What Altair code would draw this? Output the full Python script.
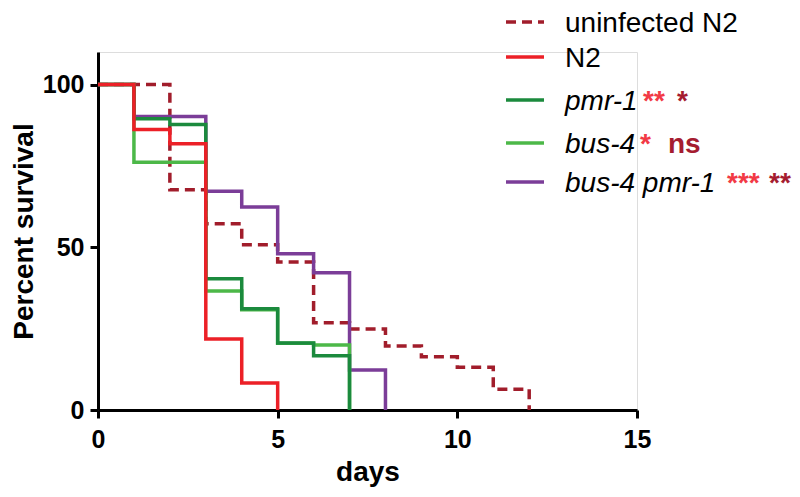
import altair as alt
import pandas as pd

# ---- data (Kaplan-Meier steps) ----
days_uninf = [0, 2, 3, 4, 5, 6, 7, 8, 9, 10, 11, 12]
surv_uninf = [100, 67.7, 57.2, 50.8, 45.5, 26.8, 24.9, 19.7, 16.4, 13.1, 6.4, 0]

days_n2 = [0, 1, 2, 3, 4, 5]
surv_n2 = [100, 86.2, 81.8, 21.8, 8.3, 0]

days_pmr = [0, 1, 2, 3, 4, 5, 6, 7]
surv_pmr = [100, 89.5, 87.7, 40.3, 31.1, 20.6, 16.7, 0]

days_bus = [0, 1, 3, 4, 5, 6, 7]
surv_bus = [100, 76.1, 36.6, 30.8, 20.5, 20.0, 0]

days_dbl = [0, 1, 3, 4, 5, 6, 7, 8]
surv_dbl = [100, 90.2, 67.2, 62.4, 48.0, 42.2, 12.3, 0]

legend_names = ["uninfected N2", "N2", "pmr-1", "bus-4", "bus-4 pmr-1"]
legend_italic = [False, False, True, True, True]
sig_vs_n2 = ["", "", "**", "*", "***"]
sig_vs_uninf = ["", "", "*", "ns", "**"]

x_ticks = [0, 5, 10, 15]
y_ticks = [0, 50, 100]

# ---- styles ----
FONT = "Liberation Sans"
C_UNINF = "#a11d2b"
C_N2 = "#ec2027"
C_PMR = "#1b8a3d"
C_BUS = "#4cb848"
C_DBL = "#7b3d98"
C_SIG1 = "#f23a45"
C_SIG2 = "#a51c30"
colors = [C_UNINF, C_N2, C_PMR, C_BUS, C_DBL]
dashes = [[10, 6], None, None, None, None]

W, H = 539, 358
x_scale = alt.Scale(domain=[0, 15], nice=False)
y_scale = alt.Scale(domain=[0, 110], nice=False)

common_axis = dict(
    labelFont=FONT, labelFontWeight="bold", labelColor="black",
    tickColor="black", tickWidth=3, tickSize=8,
    domainColor="black", domainWidth=3, grid=False,
    titleFont=FONT, titleFontWeight="bold", titleColor="black",
)
x_axis = alt.Axis(values=x_ticks, format="d", labelFontSize=25, labelPadding=9,
                  titleFontSize=28, titlePadding=6, labelFlush=False, **common_axis)
y_axis = alt.Axis(values=y_ticks, format="d", labelFontSize=25, labelPadding=6,
                  titleFontSize=28, titlePadding=4, **common_axis)


def curve(days, surv, color, dash=None):
    df = pd.DataFrame({"day": days, "surv": surv})
    kw = dict(interpolate="step-after", color=color, strokeWidth=3.5, clip=False)
    if dash:
        kw["strokeDash"] = dash
    return alt.Chart(df).mark_line(**kw).encode(
        x=alt.X("day:Q", scale=x_scale, axis=x_axis, title="days"),
        y=alt.Y("surv:Q", scale=y_scale, axis=y_axis, title="Percent survival"),
        order="day:Q",
    )


layers = [
    curve(days_uninf, surv_uninf, C_UNINF, [10, 6]),
    curve(days_dbl, surv_dbl, C_DBL),
    curve(days_bus, surv_bus, C_BUS),
    curve(days_pmr, surv_pmr, C_PMR),
    curve(days_n2, surv_n2, C_N2),
]

# ---- custom legend (layout constants, relative to plot origin) ----
row_y = [-30, 5, 48, 91, 130]
sym_x0, sym_x1 = 408, 446
text_x = 467
sig1_x = [None, None, 545, 542, 629]
sig2_x = [None, None, 579, 570, 671]
FS = 28

for i, name in enumerate(legend_names):
    rule_kw = dict(color=colors[i], strokeWidth=3.5)
    if dashes[i]:
        rule_kw["strokeDash"] = dashes[i]
    layers.append(
        alt.Chart(pd.DataFrame({"t": [name]})).mark_rule(**rule_kw).encode(
            x=alt.value(sym_x0), x2=alt.value(sym_x1), y=alt.value(row_y[i])
        )
    )
    layers.append(
        alt.Chart(pd.DataFrame({"t": [name]})).mark_text(
            font=FONT, fontSize=FS, align="left", baseline="alphabetic",
            fontStyle="italic" if legend_italic[i] else "normal", color="black",
        ).encode(x=alt.value(text_x), y=alt.value(row_y[i] + 10), text="t:N")
    )
    if sig_vs_n2[i]:
        layers.append(
            alt.Chart(pd.DataFrame({"t": [sig_vs_n2[i]]})).mark_text(
                font=FONT, fontSize=FS, fontWeight="bold", align="left",
                baseline="alphabetic", color=C_SIG1,
            ).encode(x=alt.value(sig1_x[i]), y=alt.value(row_y[i] + 10), text="t:N")
        )
    if sig_vs_uninf[i]:
        layers.append(
            alt.Chart(pd.DataFrame({"t": [sig_vs_uninf[i]]})).mark_text(
                font=FONT, fontSize=FS, fontWeight="bold", align="left",
                baseline="alphabetic", color=C_SIG2,
            ).encode(x=alt.value(sig2_x[i]), y=alt.value(row_y[i] + 10), text="t:N")
        )

chart = alt.layer(*layers).properties(
    width=W, height=H,
    autosize=alt.AutoSizeParams(type="none"),
    padding={"left": 90, "top": 44, "right": 155, "bottom": 79},
).configure_view(stroke=None).configure(background="white")

chart.save("out.html", embed_options={"renderer": "svg", "actions": False})
